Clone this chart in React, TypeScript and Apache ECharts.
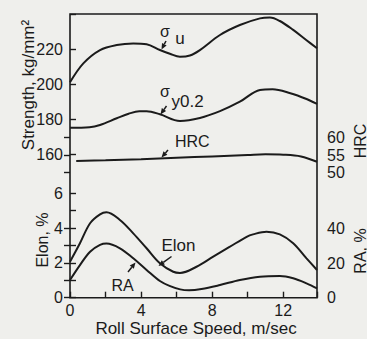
import React, { useEffect, useRef } from "react";
import * as echarts from "echarts";

// Roll surface speed (m/sec) sample points and read values
const speedU = [0, 0.75, 1.69, 2.63, 3.56, 4.31, 5.06, 5.62, 6.19, 6.75, 7.31, 8.44, 9.56, 10.69, 11.25, 11.81, 12.56, 13.31, 13.9];
const sigmaU = [201, 211.8, 219.4, 222.3, 223.2, 222.7, 219.4, 217.3, 215.6, 216.3, 219.4, 228, 233.7, 237.5, 238, 236, 230.9, 225, 220.4];

const speedY = [0, 1.1, 1.69, 2.63, 3.3, 3.9, 4.31, 5.06, 6.19, 7.31, 8.44, 9.56, 10.69, 11.4, 12.4, 13.31, 13.9];
const sigmaY = [175, 175.3, 176.6, 180.4, 183, 184.4, 184.4, 182.7, 178.9, 180.6, 184.5, 189.9, 196.6, 197, 194.7, 191.4, 188.6];

const speedH = [0.35, 2, 4, 6, 8, 10, 11, 12, 13, 13.9];
const hrc = [53.3, 53.5, 53.8, 54.2, 54.6, 55.0, 55.2, 55.1, 54.6, 53.1];

const speedE = [0, 0.56, 1.13, 1.69, 2.05, 2.81, 3.56, 4.31, 5.06, 5.81, 6.19, 7.12, 8.06, 9.0, 9.94, 10.3, 11.06, 11.81, 12.56, 13.31, 13.9];
const elon = [2.07, 3.13, 4.28, 4.79, 4.91, 4.47, 3.7, 2.84, 1.98, 1.49, 1.42, 1.78, 2.36, 2.93, 3.5, 3.64, 3.79, 3.64, 3.13, 2.26, 1.59];

const speedR = [0, 0.56, 1.13, 1.69, 2.05, 2.81, 3.56, 4.31, 5.06, 5.6, 6.2, 6.7, 7.4, 8.44, 9.56, 10.69, 11.81, 12.56, 13.31, 13.9];
const ra = [10.2, 18.8, 26.5, 30.4, 31.2, 28.5, 22.7, 16, 9.6, 6.8, 4.8, 4.3, 5.0, 7.3, 10.2, 12.1, 12.5, 11.2, 8.3, 5.4];

const xTickLabels = [0, 4, 8, 12];
const strengthLabels = [160, 180, 200, 220];
const elonLabels = [0, 2, 4, 6];
const raLabels = [0, 20, 40];

const FONT = "'Liberation Sans', Arial, sans-serif";
const INK = "#1b1b1b";

const pair = (xs: number[], ys: number[]) => xs.map((x, i) => [x, ys[i]]);

function arrow(x1: number, y1: number, x2: number, y2: number) {
  const dx = x2 - x1, dy = y2 - y1;
  const len = Math.hypot(dx, dy);
  const ux = dx / len, uy = dy / len;
  const hl = 6, hw = 2.6;
  const bx = x2 - ux * hl, by = y2 - uy * hl;
  return [
    { type: "line", shape: { x1, y1, x2: bx, y2: by }, style: { stroke: INK, lineWidth: 1.5 } },
    {
      type: "polygon",
      shape: { points: [[x2, y2], [bx - uy * hw, by + ux * hw], [bx + uy * hw, by - ux * hw]] },
      style: { fill: INK },
    },
  ];
}

function txt(text: string, x: number, y: number, size: number, opts: any = {}) {
  return {
    type: "text",
    x,
    y,
    rotation: opts.rotation || 0,
    style: {
      text,
      fontSize: size,
      fontFamily: FONT,
      fill: INK,
      align: opts.align || "center",
      verticalAlign: "middle",
    },
  };
}

const lineSeries = (data: number[][], xi: number, yi: number) => ({
  type: "line",
  xAxisIndex: xi,
  yAxisIndex: yi,
  data,
  smooth: 0.35,
  showSymbol: false,
  lineStyle: { color: INK, width: 2 },
  silent: true,
});

const labelStyle = { fontFamily: FONT, fontSize: 16, color: INK };
const tickStyle = { show: true, inside: true, length: 6, lineStyle: { color: INK, width: 1.4 } };

export default function App() {
  const ref = useRef<HTMLDivElement>(null);
  useEffect(() => {
    if (!ref.current) return;
    const chart = echarts.init(ref.current, null, { renderer: "svg" });
    const option: any = {
      animation: false,
      backgroundColor: "#efefec",
      grid: [
        { left: 70, right: 50, top: 14, bottom: 41.3, show: true, borderColor: INK, borderWidth: 1.6, backgroundColor: "transparent" },
        { left: 70, right: 50, top: 14, height: 140 },
        { left: 70, right: 50, top: 137.3, height: 35.4 },
        { left: 70, right: 50, top: 193.3, height: 104.4 },
        { left: 70, right: 50, top: 228.3, height: 69.4 },
      ],
      xAxis: [0, 1, 2, 3, 4].map((i) => ({
        gridIndex: i,
        type: "value",
        min: 0,
        max: 13.9,
        interval: 2,
        show: i === 3,
        axisLine: { show: false },
        splitLine: { show: false },
        axisTick: tickStyle,
        axisLabel: {
          ...labelStyle,
          margin: 5,
          formatter: (v: number) => (xTickLabels.includes(v) ? String(v) : ""),
        },
      })),
      yAxis: [
        { gridIndex: 0, type: "value", show: false },
        {
          gridIndex: 1, type: "value", position: "left", min: 160, max: 240, interval: 20,
          axisLine: { show: false }, splitLine: { show: false }, axisTick: tickStyle,
          axisLabel: { ...labelStyle, margin: 7, formatter: (v: number) => (strengthLabels.includes(v) ? String(v) : "") },
        },
        {
          gridIndex: 2, type: "value", position: "right", min: 50, max: 60, interval: 5,
          axisLine: { show: false }, splitLine: { show: false }, axisTick: tickStyle,
          axisLabel: { ...labelStyle, margin: 10 },
        },
        {
          gridIndex: 3, type: "value", position: "left", min: 0, max: 6, interval: 1,
          axisLine: { show: false }, splitLine: { show: false }, axisTick: tickStyle,
          axisLabel: { ...labelStyle, margin: 7, formatter: (v: number) => (elonLabels.includes(v) ? String(v) : "") },
        },
        {
          gridIndex: 4, type: "value", position: "right", min: 0, max: 40, interval: 10,
          axisLine: { show: false }, splitLine: { show: false }, axisTick: tickStyle,
          axisLabel: { ...labelStyle, margin: 10, formatter: (v: number) => (raLabels.includes(v) ? String(v) : "") },
        },
      ],
      series: [
        lineSeries(pair(speedU, sigmaU), 1, 1),
        lineSeries(pair(speedY, sigmaY), 1, 1),
        lineSeries(pair(speedH, hrc), 2, 2),
        lineSeries(pair(speedE, elon), 3, 3),
        lineSeries(pair(speedR, ra), 4, 4),
      ],
      graphic: [
        // axis titles
        txt("Strength, kg/mm\u00b2", 28, 85, 17, { rotation: Math.PI / 2 }),
        txt("Elon, %", 42, 240, 16, { rotation: Math.PI / 2 }),
        txt("HRC", 360, 141, 16, { rotation: Math.PI / 2 }),
        txt("RA, %", 360, 251, 16, { rotation: Math.PI / 2 }),
        txt("Roll Surface Speed, m/sec", 196, 328.5, 17),
        // curve labels
        txt("\u03c3", 165, 31, 16),
        txt("u", 180, 38, 17),
        ...arrow(166, 41, 161.5, 49.5),
        txt("\u03c3", 165, 91, 16),
        txt("y0.2", 171.5, 101, 17, { align: "left" }),
        ...arrow(166.5, 106, 160.5, 114.5),
        txt("HRC", 175, 141, 16, { align: "left" }),
        ...arrow(168, 150, 161.5, 157.5),
        txt("Elon", 161.5, 245.5, 17, { align: "left" }),
        ...arrow(171.5, 256.5, 158.5, 266),
        txt("RA", 111.5, 285, 16, { align: "left" }),
        ...arrow(128, 272, 135.5, 262.5),
      ],
    };
    chart.setOption(option);
    return () => chart.dispose();
  }, []);
  return <div ref={ref} style={{ position: "fixed", left: 0, top: 0, width: 367, height: 339 }} />;
}
